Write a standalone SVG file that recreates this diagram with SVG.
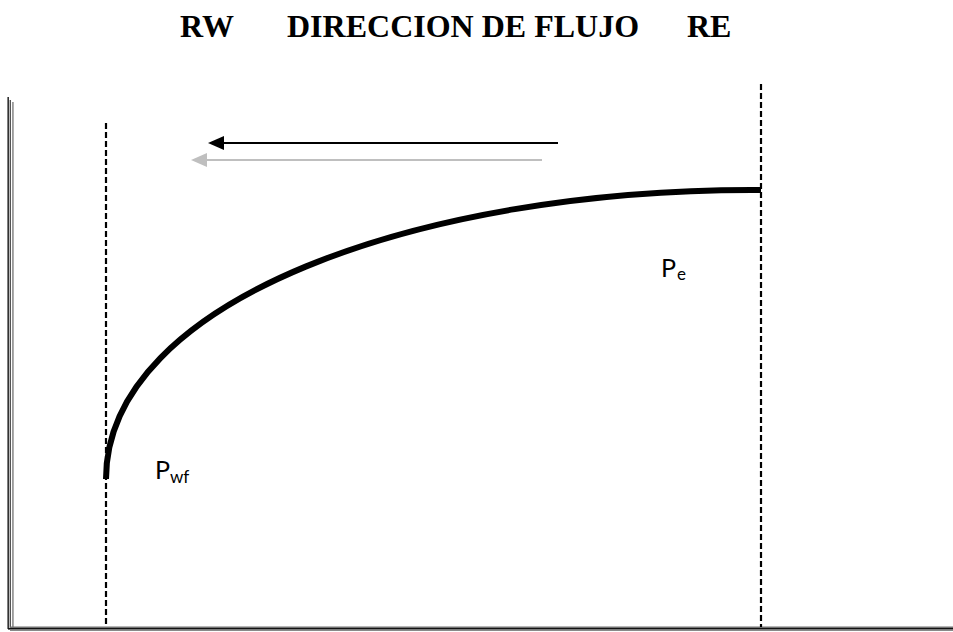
<svg xmlns="http://www.w3.org/2000/svg" width="953" height="632" viewBox="0 0 953 632">
<style>
.title{font-family:"Liberation Serif","Times New Roman",serif;font-weight:bold;font-size:32px;fill:#000}
.lbl{font-family:Lato,"Liberation Sans",sans-serif;font-size:25px;fill:#000}
.sub{font-size:17px}
.dash{stroke:#000;stroke-width:2.2;stroke-dasharray:6 3;fill:none}
</style>
<defs>
<marker id="ahB" markerWidth="16" markerHeight="14" refX="0" refY="7" orient="auto" markerUnits="userSpaceOnUse">
<path d="M0,0 L16,7 L0,14 Z" fill="#000"/>
</marker>
<marker id="ahG" markerWidth="16" markerHeight="14" refX="0" refY="7" orient="auto" markerUnits="userSpaceOnUse">
<path d="M0,0 L16,7 L0,14 Z" fill="#bfbfbf"/>
</marker>
</defs>
<rect width="953" height="632" fill="#fff"/>
<g id="title">
<text class="title" x="180" y="37">RW</text>
<text class="title" x="287" y="37">DIRECCION DE FLUJO</text>
<text class="title" x="687" y="37">RE</text>
</g>
<g id="axes">
<rect x="7.5" y="97" width="1.3" height="532" fill="#000"/>
<rect x="9.6" y="100" width="1.4" height="528" fill="#555"/>
<rect x="12" y="102" width="1.8" height="526" fill="#9a9a9a"/>
<rect x="10" y="626.5" width="943" height="1.5" fill="#707070"/>
<rect x="8" y="628" width="945" height="1.6" fill="#111"/>
<rect x="10" y="629.6" width="943" height="1.4" fill="#8a8a8a"/>
</g>
<g id="boundaries">
<line class="dash" x1="106" y1="123" x2="106" y2="627"/>
<line class="dash" x1="761" y1="84" x2="761" y2="627"/>
</g>
<g id="connectors">
<line x1="558" y1="143" x2="224" y2="143" stroke="#000" stroke-width="2" marker-end="url(#ahB)"/>
<line x1="542" y1="160" x2="207" y2="160" stroke="#bfbfbf" stroke-width="2" marker-end="url(#ahG)"/>
</g>
<g id="curve">
<path d="M106,479 C106,300 420,188 761,190" fill="none" stroke="#000" stroke-width="6"/>
</g>
<g id="label-pe">
<text class="lbl" x="661" y="277">P<tspan class="sub" dx="1" dy="3">e</tspan></text>
</g>
<g id="label-pwf">
<text class="lbl" x="155" y="479">P<tspan class="sub" dx="0" dy="4">wf</tspan></text>
</g>
</svg>
